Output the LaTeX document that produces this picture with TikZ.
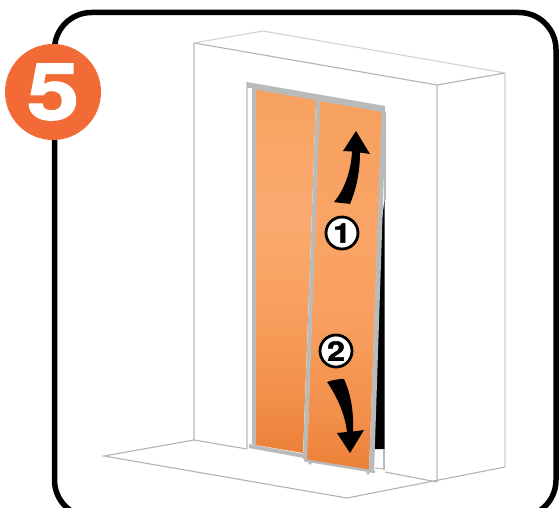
\documentclass[tikz,border=0pt]{standalone}
\usepackage{fontspec}
\setmainfont{TeX Gyre Heros}
\newfontfamily\digitfont[BoldFeatures={FakeStretch=1.2,FakeBold=1.5}]{TeX Gyre Heros}
\definecolor{badgeorange}{HTML}{F26A36}
\definecolor{walledge}{HTML}{D4D0D0}
\definecolor{railgrey}{HTML}{B9BBBB}
\definecolor{panelA}{HTML}{EC8038}
\definecolor{panelB}{HTML}{F2904A}
\definecolor{panelC}{HTML}{F89F5E}
\definecolor{panelD}{HTML}{FBAB71}
\definecolor{panelE}{HTML}{F7A15F}
\definecolor{panelF}{HTML}{F9A466}
\pgfdeclareverticalshading{leftpanel}{100bp}{color(0bp)=(panelA);color(25bp)=(panelA);color(33bp)=(panelB);color(45bp)=(panelC);color(58bp)=(panelD);color(75bp)=(panelE);color(100bp)=(panelE)}
\pgfdeclareverticalshading{rightpanel}{100bp}{color(0bp)=(panelA);color(25bp)=(panelA);color(33bp)=(panelB);color(45bp)=(panelC);color(58bp)=(panelF);color(75bp)=(panelE);color(100bp)=(panelE)}
\tikzset{
  walledge/.style={draw=walledge,line width=1.1pt,line join=round},
  wallshadow/.style={draw=walledge!85!black,line width=1.1pt},
  stepnum/.style={circle,draw=black,fill=white,line width=2.8pt,minimum size=32pt,inner sep=0pt,font=\digitfont\fontsize{27}{27}\selectfont\bfseries},
}
\begin{document}
\begin{tikzpicture}[x=1pt,y=-1pt]
  \useasboundingbox (0,0) rectangle (559,508);
  \clip (0,0) rectangle (559,508);
  \fill[white] (0,0) rectangle (559,508);
  \draw[line width=5.5pt,rounded corners=37pt] (54.5,200)--(54.5,517)--(556,517)--(556,12.5)--(54.5,12.5)--cycle;
  \draw[walledge] (194,440)--(194,43);
  \draw[wallshadow] (194,43)--(437,85)--(505,73);
  \draw[walledge] (194,43)--(263,31)--(505,73)--(505,467);
  \draw[walledge] (437,85)--(437,482);
  \draw[wallshadow] (194,440)--(104,456)--(347,498)--(505,467);
  \draw[wallshadow] (194,440)--(247,449);
  \draw[wallshadow] (385,472)--(437,482);
  \draw[walledge] (247,82)--(247,449);
  \fill[black] (384.5,200)--(384.5,449)--(372,449)--(378,250)--cycle;
  \fill[railgrey] (247,82)--(385,106)--(385,113)--(256,91)--(252,90)--(252,88)--(247,88)--cycle;
  \fill[railgrey] (252,88)--(256.5,90)--(256.5,446)--(252,444)--cycle;
  \fill[railgrey] (249,444)--(304,454)--(304,458)--(249,448)--cycle;
  \draw[railgrey,line width=1.2pt] (385,112)--(385,200);
  \draw[railgrey,line width=1.2pt] (375,468)--(384,469);
  \draw[railgrey,line width=1.2pt] (384,449)--(384,470);
  \shade[shading=leftpanel] (256,90)--(316,100)--(303,453)--(256,445)--cycle;
  \shade[shading=rightpanel] (319,101)--(382,112)--(369,470)--(307,460)--cycle;
  \fill[railgrey] (316,100)--(320,101)--(307,460)--(303,459)--cycle;
  \fill[railgrey] (381.5,111)--(386,112)--(374,473)--(369,472)--cycle;
  \fill[railgrey] (304,459)--(375,470.5)--(375,473)--(304,461.5)--cycle;
  \fill[railgrey] (310,463) circle (1.8pt) (368,473) circle (1.8pt);
  \fill[black] (356,131)--(370,154)--(360,152.5) .. controls (360,175) and (355,192) .. (350,204) .. controls (345,203) and (339,203) .. (334,202) .. controls (344,190) and (351,172) .. (352,151.5)--(343,151)--cycle;
  \fill[black] (350,453)--(337,433)--(347,432) .. controls (345,415) and (338,398) .. (327,382) .. controls (332,380) and (338,379) .. (344,379) .. controls (350,392) and (354,410) .. (353,431.5)--(364,430)--cycle;
  \node[stepnum] (numone) at (342,233) {1};
  \node[stepnum] (numtwo) at (336,351) {2};
  \node[circle,fill=badgeorange,minimum size=96pt,inner sep=0pt,text=white,font=\digitfont\fontsize{79}{79}\selectfont\bfseries] (badge) at (53,92) {5};
\end{tikzpicture}
\end{document}
